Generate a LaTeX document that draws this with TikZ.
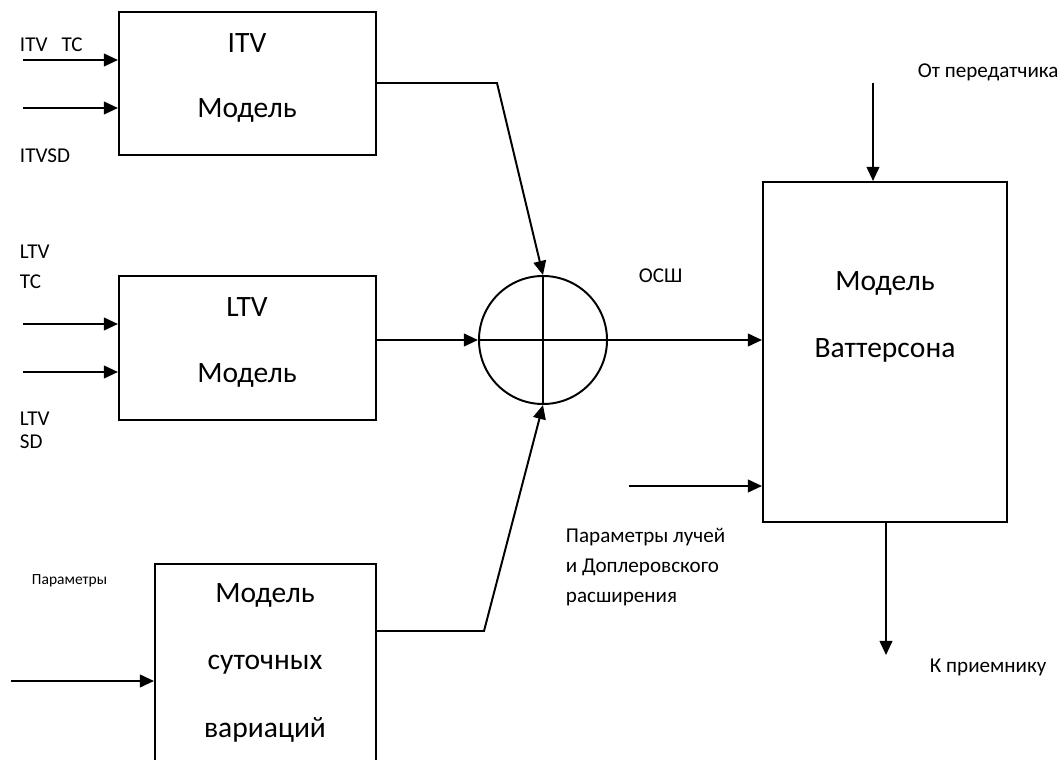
\documentclass[tikz,border=0pt]{standalone}
\usepackage{fontspec}
\setmainfont{Carlito}
\usetikzlibrary{arrows.meta, positioning}
\tikzset{
  every picture/.style={line width=1.4pt},
  blok/.style={draw, rectangle, inner sep=0pt},
  arrow/.style={-{Triangle[length=10pt, width=9pt]}},
  big/.style={font=\fontsize{21}{25}\selectfont},
  lbl/.style={font=\fontsize{15}{21.3}\selectfont, anchor=west, inner sep=0pt, align=left},
  tiny/.style={font=\fontsize{11}{13}\selectfont, anchor=west, inner sep=0pt},
}

\begin{document}
\begin{tikzpicture}[x=0.025cm, y=-0.025cm]
  \useasboundingbox (0,0) rectangle (1060,760);
  \clip (0,0) rectangle (1060,760);
  % blocks
  \node[blok, minimum width=6.425cm, minimum height=3.575cm] (itv) at (247.5,83.5) {};
  \node[blok, minimum width=6.425cm, minimum height=3.6cm] (ltv) at (247.5,348) {};
  \node[blok, minimum width=5.525cm, minimum height=5.9cm] (var) at (265.5,682) {};
  \node[blok, minimum width=6.1cm, minimum height=8.5cm] (wat) at (885,352) {};
  \node[draw, circle, minimum size=3.2cm, inner sep=0pt] (sum) at (543,340) {};
  \draw (sum.north) -- (sum.south) (sum.west) -- (sum.east);

  % block texts
  \node[big] (itv1) at (247,43) {ITV};
  \node[big] (itv2) at (247,110) {Модель};
  \node[big] (ltv1) at (247,307) {LTV};
  \node[big] (ltv2) at (247,375) {Модель};
  \node[big] (var1) at (265,595) {Модель};
  \node[big] (var2) at (265,665) {суточных};
  \node[big] (var3) at (265,730) {вариаций};
  \node[big] (wat1) at (885,283) {Модель};
  \node[big] (wat2) at (885,350) {Ваттерсона};

  % inputs on the left
  \foreach \y [count=\i] in {60,108} {
    \coordinate (a\i) at (23,\y);
    \draw[arrow] (a\i) -- (a\i -| itv.west);
  }
  \foreach \y [count=\i] in {324,372} {
    \coordinate (b\i) at (23,\y);
    \draw[arrow] (b\i) -- (b\i -| ltv.west);
  }
  \coordinate (c1) at (11,681);
  \draw[arrow] (c1) -- (c1 -| var.west);

  % into the sum
  \coordinate (k1) at (497,83);
  \draw[arrow] (itv.east |- k1) -- (k1) -- (sum.north);
  \draw[arrow] (ltv.east |- sum) -- (sum.west);
  \coordinate (k2) at (484,631);
  \draw[arrow] (var.east |- k2) -- (k2) -- (sum.south);
  \draw[arrow] (sum.east) -- (wat.west |- sum.east);

  % Watterson in/out
  \coordinate (t1) at (873,83);
  \draw[arrow] (t1) -- (t1 |- wat.north);
  \coordinate (p1) at (629,486);
  \draw[arrow] (p1) -- (p1 -| wat.west);
  \coordinate (out) at (886,655);
  \draw[arrow] (out |- wat.south) -- (out);

  % labels
  \node[lbl] (l1) at (19,45) {ITV\hspace{10pt}TC};
  \node[lbl] (l2) at (19,156) {ITVSD};
  \node[lbl] (l3) at (19,252) {LTV};
  \node[lbl] (l4) at (19,282) {TC};
  \node[lbl] (l5) at (19,419) {LTV};
  \node[lbl] (l6) at (19,442) {SD};
  \node[tiny] (l7) at (31,581) {Параметры};
  \node[lbl] (osh) at (638,276) {ОСШ};
  \node[lbl] (from) at (917,72) {От передатчика};
  \node[lbl] (par) at (565,567) {Параметры лучей\\и Доплеровского\\расширения};
  \node[lbl] (to) at (929,667) {К приемнику};
\end{tikzpicture}
\end{document}
